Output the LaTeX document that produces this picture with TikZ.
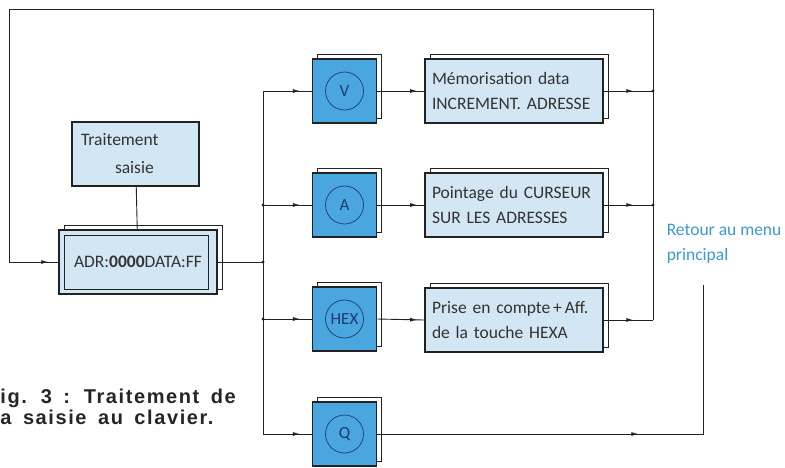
\documentclass[tikz,border=0pt]{standalone}
\usepackage{fontspec}
\setmainfont{Carlito}
\newfontfamily\legende[LetterSpace=8,WordSpace=1.6]{Liberation Sans}
\usepackage{tikz}
\usetikzlibrary{arrows.meta,calc,decorations.markings,shadows}
\definecolor{PanoBleu}{HTML}{4AA6DF}
\definecolor{PanoCiel}{HTML}{D2E6F3}
\definecolor{PanoTrait}{HTML}{222222}
\definecolor{PanoNavy}{HTML}{1E3A6E}
\definecolor{PanoRetour}{HTML}{3A98D6}
\tikzset{
  fleche/.style={postaction={decorate},decoration={markings,mark=at position #1 with {\arrow{Latex[length=7pt,width=4pt]}}}},
  fleche/.default=.76,
  ombre/.style={copy shadow={shadow xshift=5pt,shadow yshift=5pt,draw=PanoTrait,line width=.6pt,fill=none}},
  cle/.style={ombre,draw=PanoTrait,line width=1.8pt,fill=PanoBleu,minimum size=64,inner sep=0},
  rond/.style={circle,draw=PanoNavy,line width=.7pt,minimum size=38,inner sep=0,text=PanoNavy,font=\fontsize{17}{17}\selectfont},
  action/.style={ombre,draw=PanoTrait,line width=1.6pt,fill=PanoCiel,minimum height=64,text width=164,inner xsep=7,align=left,text=black!80,font=\fontsize{17.5}{25}\selectfont}
}
\begin{document}
\begin{tikzpicture}[x=1pt,y=-1pt,line width=.9pt,draw=PanoTrait]
\useasboundingbox (0,0) rectangle (785,467);
% boites de saisie
\node[draw=PanoTrait,line width=1.6pt,fill=PanoCiel,minimum height=64,text width=109,inner xsep=9,align=left,text=black!80,font=\fontsize{17.5}{28}\selectfont] (trait) at (135.5,154) {Traitement\\\hspace*{34pt}saisie};
\node[ombre,draw=PanoTrait,line width=1.8pt,fill=PanoCiel,minimum width=158,minimum height=64,text=black!80,font=\fontsize{17.5}{17.5}\selectfont] (adr) at (138,262) {ADR:\textbf{0000}DATA:FF};
\draw[line width=.8pt] ($(adr.north west)+(6,6)$) rectangle ($(adr.south east)+(-10,-6)$);
\draw (trait) -- (adr);
% touches et actions
\foreach \n/\y/\t in {1/91/V,2/205/A,3/319/HEX,4/434/Q}{
  \node[cle] (k\n) at (344.5,\y) {};
  \node[rond] (r\n) at (k\n) {\t};
}
\foreach \n/\y/\t in {1/91/{M\'emorisation data\\INCREMENT. ADRESSE},2/205/{Pointage du CURSEUR\\SUR LES ADRESSES},3/320/{Prise en compte\,+\,Aff.\\de la touche HEXA}}{
  \node[action] (a\n) at (514,\y) {\t};
  \draw[fleche=.85] (k\n.east) -- (a\n.west);
}
% bus des touches
\coordinate (bus) at (263,262);
\draw (adr.east) -- (bus);
\draw (bus |- k1.west) -- (bus |- k4.west);
\foreach \n in {1,...,4} \draw[fleche] (bus |- k\n.west) -- (k\n.west);
% retours
\coordinate (droite) at (653,9);\coordinate (gauche) at (9,9);\coordinate (retG) at (9,262);
\foreach \n in {1,2,3} \draw[fleche=.6] (a\n.east) -- (a\n.east -| droite);
\draw (a3.east -| droite) -- (droite) -- (gauche) -- (retG);
\draw[fleche=.8] (retG) -- (adr.west);
\coordinate (retour) at (703,285);
\draw[fleche=.55] (k4.east) -| (retour);
\foreach \p in {(bus |- k2.west),(bus),(bus |- k3.west),(a1.east -| droite),(a2.east -| droite)} \fill[PanoTrait] \p circle (1.6);
\node[anchor=north west,align=left,text=PanoRetour,font=\fontsize{17.5}{25}\selectfont] (menu) at (663,220) {Retour au menu\\principal};
\node[anchor=west,align=left,inner sep=0,text=black!85,font=\legende\bfseries\fontsize{20}{21}\selectfont] (fig) at (0,407) {ig. 3 : Traitement de\\a saisie au clavier.};
\end{tikzpicture}
\end{document}
